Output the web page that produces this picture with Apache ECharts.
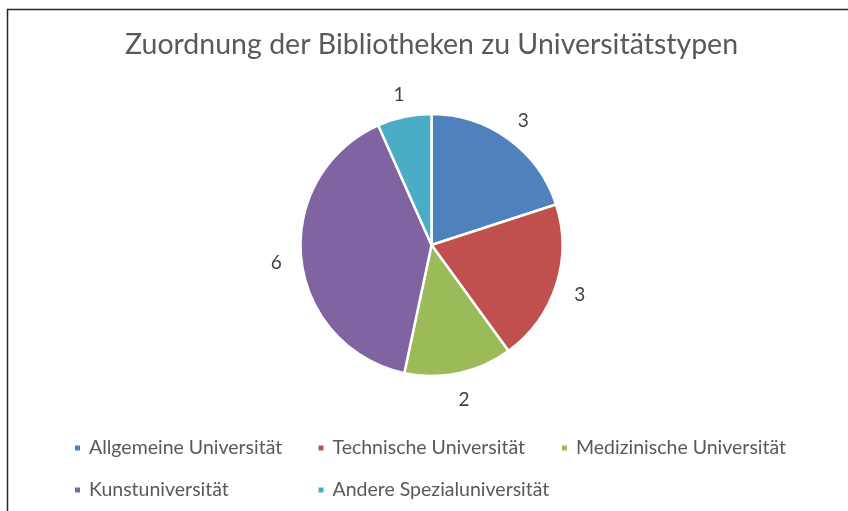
<!DOCTYPE html>
<html lang="de">
<head>
    <meta charset="UTF-8">
    <title>Zuordnung der Bibliotheken zu Universitätstypen</title>
    <script type="text/javascript" src="https://cdn.jsdelivr.net/npm/echarts@6/dist/echarts.min.js"></script>
</head>
<style>
    html, body { margin: 0; padding: 0; background: #fff; }
    #container { width: 848px; height: 511px; }
</style>
<body>
<div id="container"></div>
<script>
    // Daten
    var categories = ['Allgemeine Universität', 'Technische Universität', 'Medizinische Universität',
        'Kunstuniversität', 'Andere Spezialuniversität'];
    var counts = [3, 3, 2, 6, 1];
    var colors = ['#4F81BD', '#C0504D', '#9BBB59', '#8064A2', '#4BACC6'];

    var chart = echarts.init(document.getElementById('container'));

    var pieData = categories.map(function (name, i) {
        return { name: name, value: counts[i] };
    });

    var option = {
        backgroundColor: '#fff',
        color: colors,
        animation: false,
        title: {
            text: 'Zuordnung der Bibliotheken zu Universitätstypen',
            left: 125,
            top: 30,
            padding: 0,
            textStyle: {
                fontFamily: 'Lato',
                fontWeight: 'normal',
                fontSize: 28.5,
                color: '#595959'
            }
        },
        legend: {
            left: 73,
            top: 427,
            width: 760,
            padding: 0,
            icon: 'rect',
            itemWidth: 7,
            itemHeight: 7,
            itemGap: 0,
            data: categories,
            textStyle: {
                fontFamily: 'Lato',
                fontSize: 19.5,
                color: '#595959',
                lineHeight: 42,
                width: 227.5,
                padding: [0, 0, 0, 3]
            }
        },
        graphic: [
            {
                type: 'rect',
                shape: { x: 7.5, y: 9.5, width: 900, height: 600 },
                style: { fill: 'none', stroke: '#262626', lineWidth: 1.5 },
                silent: true
            }
        ],
        series: [
            {
                type: 'pie',
                center: [431.5, 245],
                radius: 131,
                startAngle: 90,
                clockwise: true,
                itemStyle: {
                    borderColor: '#fff',
                    borderWidth: 2.5
                },
                label: { show: false },
                labelLine: { show: false },
                emphasis: { disabled: true },
                data: pieData
            },
            {
                // unsichtbarer Ring nur für die Datenbeschriftungen
                type: 'pie',
                center: [431.5, 245],
                radius: [147, 159],
                startAngle: 90,
                clockwise: true,
                silent: true,
                itemStyle: { color: 'rgba(0,0,0,0)', borderWidth: 0 },
                label: {
                    show: true,
                    position: 'inside',
                    formatter: '{c}',
                    fontFamily: 'Lato',
                    fontSize: 19,
                    color: '#404040',
                    textBorderWidth: 0,
                    offset: [0, 2]
                },
                labelLine: { show: false },
                emphasis: { disabled: true },
                data: pieData
            }
        ]
    };

    chart.setOption(option);
</script>
</body>
</html>
